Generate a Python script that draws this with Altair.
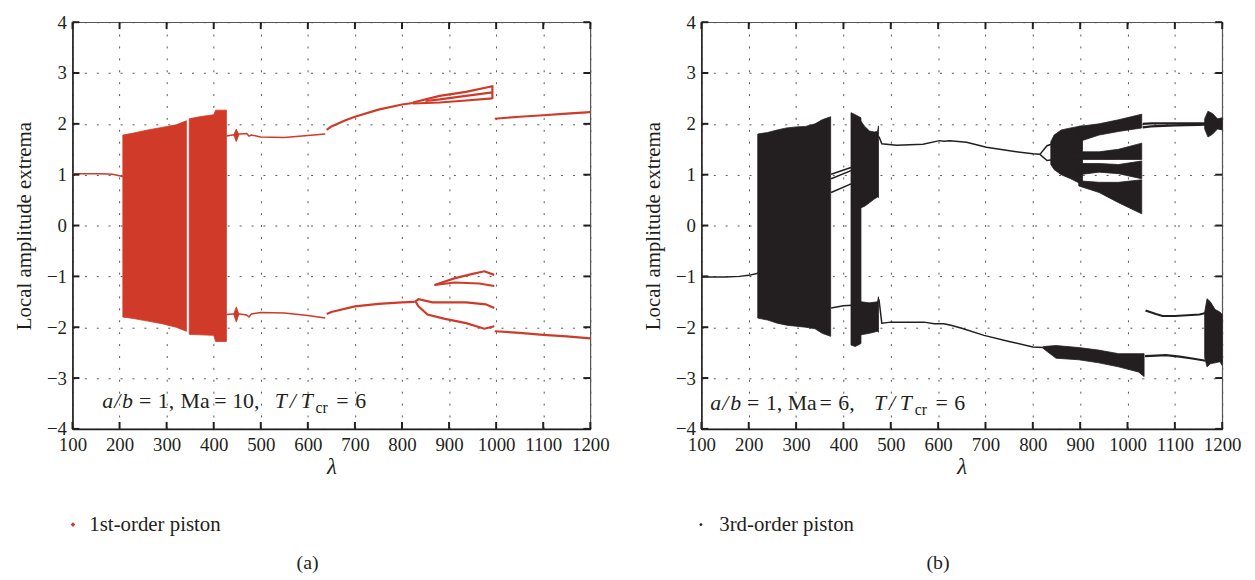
import altair as alt
import pandas as pd

RED = "#cf3a29"
INK = "#231f20"
FONT = "Liberation Serif"

X_TICKS = [100, 200, 300, 400, 500, 600, 700, 800, 900, 1000, 1100, 1200]
Y_TICKS = [-4, -3, -2, -1, 0, 1, 2, 3, 4]

# ---------------- panel (a): 1st-order piston, Ma = 10 ----------------
# chaotic bands: lambda, upper envelope, lower envelope
A_B1_X = [207, 230, 260, 290, 320, 342]
A_B1_TOP = [1.78, 1.82, 1.88, 1.93, 1.98, 2.06]
A_B1_BOT = [-1.80, -1.83, -1.88, -1.93, -2.00, -2.08]

A_B2_X = [348, 370, 400, 404, 427]
A_B2_TOP = [2.10, 2.14, 2.18, 2.27, 2.27]
A_B2_BOT = [-2.14, -2.15, -2.16, -2.28, -2.28]

A_S1_X = [443, 448, 453]
A_S1_TOP = [1.79, 1.90, 1.79]
A_S1_BOT = [1.77, 1.65, 1.77]

A_S2_X = [443, 448, 453]
A_S2_TOP = [-1.73, -1.60, -1.73]
A_S2_BOT = [-1.76, -1.90, -1.76]

# periodic branches
A_PRE_X = [100, 130, 160, 185, 200, 207]
A_PRE_Y = [1.02, 1.02, 1.02, 1.01, 0.98, 0.96]

A_UP1_X = [427, 440, 455, 470, 475, 480, 500, 550, 600, 637]
A_UP1_Y = [1.76, 1.78, 1.80, 1.81, 1.76, 1.78, 1.74, 1.73, 1.77, 1.80]

A_UP2_X = [640, 650, 680, 700, 750, 800, 823]
A_UP2_Y = [1.88, 1.95, 2.07, 2.14, 2.28, 2.38, 2.41]

A_UP3A_X = [823, 880, 936, 992]
A_UP3A_Y = [2.42, 2.55, 2.63, 2.74]
A_UP3B_X = [850, 880, 936, 992]
A_UP3B_Y = [2.45, 2.48, 2.55, 2.62]
A_UP3C_X = [823, 880, 936, 992]
A_UP3C_Y = [2.40, 2.42, 2.46, 2.50]
A_UP3V_X = [992, 992]
A_UP3V_Y = [2.49, 2.76]

A_UP4_X = [997, 1050, 1100, 1150, 1200]
A_UP4_Y = [2.10, 2.14, 2.17, 2.20, 2.23]

A_LO1_X = [427, 440, 455, 470, 475, 480, 500, 550, 600, 637]
A_LO1_Y = [-1.75, -1.74, -1.74, -1.76, -1.80, -1.74, -1.71, -1.72, -1.77, -1.82]

A_LO2_X = [640, 650, 700, 750, 800, 827]
A_LO2_Y = [-1.74, -1.70, -1.59, -1.54, -1.51, -1.50]

A_LO3A_X = [827, 835, 865, 936, 978, 996]
A_LO3A_Y = [-1.50, -1.45, -1.51, -1.51, -1.55, -1.62]
A_LO3B_X = [829, 835, 854, 889, 936, 975, 996]
A_LO3B_Y = [-1.50, -1.59, -1.75, -1.83, -1.92, -2.03, -1.98]
A_LO4A_X = [869, 911, 950, 975, 996]
A_LO4A_Y = [-1.17, -1.04, -0.95, -0.90, -0.97]
A_LO4B_X = [869, 911, 964, 996]
A_LO4B_Y = [-1.17, -1.12, -1.14, -1.19]

A_LO5_X = [997, 1050, 1100, 1150, 1200]
A_LO5_Y = [-2.08, -2.11, -2.15, -2.18, -2.22]

# ---------------- panel (b): 3rd-order piston, Ma = 6 ----------------
B_B1_X = [219, 240, 260, 280, 300, 320, 340, 355, 373]
B_B1_TOP = [1.80, 1.83, 1.88, 1.92, 1.94, 1.95, 2.00, 2.08, 2.14]
B_B1_BOT = [-1.82, -1.86, -1.92, -1.96, -1.98, -2.00, -2.03, -2.12, -2.18]

B_B2_X = [416, 425, 437]
B_B2_TOP = [2.22, 2.18, 2.12]
B_B2_BOT = [-2.35, -2.38, -2.32]

B_B3_X = [437, 445, 455, 465, 472, 474]
B_B3_TOP = [2.05, 1.95, 1.86, 1.84, 1.85, 1.96]
B_B3_BOT = [0.35, 0.38, 0.45, 0.52, 0.56, 0.55]

B_B4_X = [437, 455, 472, 474]
B_B4_TOP = [-1.50, -1.52, -1.50, -1.40]
B_B4_BOT = [-2.15, -2.12, -2.08, -2.10]

B_FAN0_X = [838, 845, 860, 880, 897, 905]
B_FAN0_TOP = [1.65, 1.78, 1.88, 1.92, 1.95, 1.96]
B_FAN0_BOT = [1.20, 1.10, 1.00, 0.92, 0.84, 0.80]

B_FANA_X = [897, 940, 981, 1030]
B_FANA_TOP = [1.95, 2.00, 2.08, 2.19]
B_FANA_BOT = [1.65, 1.78, 1.85, 1.92]

B_FANB_X = [890, 940, 981, 1030]
B_FANB_TOP = [1.45, 1.45, 1.50, 1.62]
B_FANB_BOT = [1.30, 1.30, 1.30, 1.30]

B_FANC_X = [897, 940, 981, 1030]
B_FANC_TOP = [1.22, 1.22, 1.20, 1.27]
B_FANC_BOT = [1.00, 1.05, 1.02, 0.92]

B_FAND_X = [897, 940, 981, 1030]
B_FAND_TOP = [0.88, 0.85, 0.85, 0.90]
B_FAND_BOT = [0.78, 0.65, 0.45, 0.23]

B_LOB_X = [822, 849, 897, 939, 981, 1023, 1035]
B_LOB_TOP = [-2.38, -2.36, -2.40, -2.45, -2.52, -2.52, -2.52]
B_LOB_BOT = [-2.42, -2.61, -2.64, -2.70, -2.78, -2.88, -2.97]

B_RUP_X = [1163, 1170, 1180, 1190, 1200]
B_RUP_TOP = [2.10, 2.25, 2.20, 2.10, 2.12]
B_RUP_BOT = [1.90, 1.74, 1.80, 1.90, 1.88]

B_RLO_X = [1163, 1168, 1175, 1185, 1195, 1200]
B_RLO_TOP = [-1.70, -1.44, -1.50, -1.65, -1.70, -1.75]
B_RLO_BOT = [-2.60, -2.78, -2.72, -2.70, -2.68, -2.75]

B_PRE_X = [100, 150, 180, 200, 215, 220]
B_PRE_Y = [-1.01, -1.01, -1.00, -0.98, -0.95, -0.93]

B_LK1_X = [374, 416]
B_LK1_Y = [1.01, 1.14]
B_LK2_X = [374, 416]
B_LK2_Y = [0.92, 1.08]
B_LK3_X = [374, 416]
B_LK3_Y = [0.65, 0.82]
B_LK4_X = [374, 400, 418]
B_LK4_Y = [-1.62, -1.58, -1.57]

B_UP1_X = [475, 481, 512, 568, 603, 612, 625, 660, 702, 751, 800, 815]
B_UP1_Y = [1.75, 1.61, 1.58, 1.60, 1.67, 1.66, 1.67, 1.64, 1.54, 1.47, 1.41, 1.40]
B_BUB1_X = [815, 830, 845]
B_BUB1_Y = [1.40, 1.57, 1.62]
B_BUB2_X = [815, 830, 845]
B_BUB2_Y = [1.40, 1.28, 1.30]

B_UP2A_X = [1032, 1050, 1100, 1150, 1172]
B_UP2A_Y = [2.00, 2.01, 2.01, 2.01, 2.01]
B_UP2B_X = [1032, 1050, 1100, 1150, 1172]
B_UP2B_Y = [1.93, 1.95, 1.97, 1.98, 1.99]

B_LO1_X = [475, 481, 500, 570, 592, 612, 627, 650, 697, 750, 800, 822]
B_LO1_Y = [-1.45, -1.92, -1.90, -1.90, -1.93, -1.93, -1.96, -2.02, -2.16, -2.28, -2.39, -2.40]
B_LO2_X = [1037, 1060, 1081, 1110, 1140, 1165]
B_LO2_Y = [-2.57, -2.56, -2.55, -2.58, -2.62, -2.66]
B_LO3_X = [1038, 1060, 1074, 1100, 1152, 1165]
B_LO3_Y = [-1.67, -1.74, -1.78, -1.78, -1.75, -1.72]


def band_df(bands, series):
    rows = []
    for name, xs, tops, bots in bands:
        for x, t, b in zip(xs, tops, bots):
            rows.append({"band": name, "lam": x, "amp": t, "amp2": b, "series": series})
    return pd.DataFrame(rows)


def line_df(lines):
    rows = []
    for name, xs, ys in lines:
        for i, (x, y) in enumerate(zip(xs, ys)):
            rows.append({"branch": name, "lam": x, "amp": y, "ord": i})
    return pd.DataFrame(rows)


def x_enc():
    return alt.X("lam:Q", scale=alt.Scale(domain=[100, 1200], nice=False, zero=False),
                 axis=alt.Axis(values=X_TICKS, title="λ", titleFontStyle="italic",
                               titleFontSize=23, titlePadding=1, labelPadding=7,
                               labelFlush=False, labelOverlap=False, format="d"))


def y_enc():
    return alt.Y("amp:Q", scale=alt.Scale(domain=[-4, 4], nice=False, zero=False),
                 axis=alt.Axis(values=Y_TICKS, title="Local amplitude extrema",
                               titlePadding=12, labelPadding=6, labelOverlap=False))


def panel(bands, thin, thick, color, series, symbol, sym_size, leg_x, lab_off, W, H,
          annot, caption):
    base_x = x_enc()
    base_y = y_enc()
    area = alt.Chart(band_df(bands, series)).mark_area(
        stroke=color, strokeWidth=0.8, opacity=1, interpolate="linear"
    ).encode(
        x=base_x, y=base_y, y2="amp2:Q", detail="band:N",
        color=alt.Color("series:N", scale=alt.Scale(domain=[series], range=[color]),
                        legend=alt.Legend(orient="none", legendX=leg_x, legendY=496,
                                          title=None, symbolType=symbol,
                                          symbolSize=sym_size, symbolStrokeWidth=0,
                                          labelFont=FONT, labelFontSize=21,
                                          labelColor=INK, labelOffset=lab_off,
                                          padding=0)),
    )
    layers = [area]
    for lines, w in ((thin, 1.5), (thick, 2.2)):
        if lines:
            layers.append(
                alt.Chart(line_df(lines)).mark_line(color=color, strokeWidth=w).encode(
                    x=base_x, y=base_y, detail="branch:N", order="ord:Q"))
    xt = alt.Chart(pd.DataFrame({"lam": X_TICKS}))
    yt = alt.Chart(pd.DataFrame({"amp": Y_TICKS}))
    layers += [
        xt.mark_rule(color=INK, strokeWidth=2).encode(x=base_x, y=alt.value(H), y2=alt.value(H - 7)),
        xt.mark_rule(color=INK, strokeWidth=2).encode(x=base_x, y=alt.value(0), y2=alt.value(7)),
        yt.mark_rule(color=INK, strokeWidth=2).encode(y=base_y, x=alt.value(0), x2=alt.value(7)),
        yt.mark_rule(color=INK, strokeWidth=2).encode(y=base_y, x=alt.value(W - 7), x2=alt.value(W)),
    ]
    one = pd.DataFrame({"k": [0]})
    for txt, px, py, style, size in annot:
        layers.append(alt.Chart(one).mark_text(
            text=txt, font=FONT, fontSize=size, fontStyle=style, color=INK,
            align="left", baseline="alphabetic").encode(x=alt.value(px), y=alt.value(py)))
    layers.append(alt.Chart(one).mark_text(
        text=caption, font=FONT, fontSize=20, color=INK, align="center",
        baseline="middle").encode(x=alt.value(W / 2 - 24), y=alt.value(545)))
    return alt.layer(*layers).properties(width=W, height=H)


A_BANDS = [("b1", A_B1_X, A_B1_TOP, A_B1_BOT), ("b2", A_B2_X, A_B2_TOP, A_B2_BOT),
           ("s1", A_S1_X, A_S1_TOP, A_S1_BOT), ("s2", A_S2_X, A_S2_TOP, A_S2_BOT)]
A_THIN = [("pre", A_PRE_X, A_PRE_Y), ("up1", A_UP1_X, A_UP1_Y), ("lo1", A_LO1_X, A_LO1_Y)]
A_THICK = [("up2", A_UP2_X, A_UP2_Y), ("up3a", A_UP3A_X, A_UP3A_Y),
           ("up3b", A_UP3B_X, A_UP3B_Y), ("up3c", A_UP3C_X, A_UP3C_Y),
           ("up3v", A_UP3V_X, A_UP3V_Y), ("up4", A_UP4_X, A_UP4_Y),
           ("lo2", A_LO2_X, A_LO2_Y), ("lo3a", A_LO3A_X, A_LO3A_Y),
           ("lo3b", A_LO3B_X, A_LO3B_Y), ("lo4a", A_LO4A_X, A_LO4A_Y),
           ("lo4b", A_LO4B_X, A_LO4B_Y), ("lo5", A_LO5_X, A_LO5_Y)]

B_BANDS = [("b1", B_B1_X, B_B1_TOP, B_B1_BOT), ("b2", B_B2_X, B_B2_TOP, B_B2_BOT),
           ("b3", B_B3_X, B_B3_TOP, B_B3_BOT), ("b4", B_B4_X, B_B4_TOP, B_B4_BOT),
           ("f0", B_FAN0_X, B_FAN0_TOP, B_FAN0_BOT), ("fa", B_FANA_X, B_FANA_TOP, B_FANA_BOT),
           ("fb", B_FANB_X, B_FANB_TOP, B_FANB_BOT), ("fc", B_FANC_X, B_FANC_TOP, B_FANC_BOT),
           ("fd", B_FAND_X, B_FAND_TOP, B_FAND_BOT), ("lob", B_LOB_X, B_LOB_TOP, B_LOB_BOT),
           ("rup", B_RUP_X, B_RUP_TOP, B_RUP_BOT), ("rlo", B_RLO_X, B_RLO_TOP, B_RLO_BOT)]
B_THIN = [("pre", B_PRE_X, B_PRE_Y), ("lk1", B_LK1_X, B_LK1_Y), ("lk2", B_LK2_X, B_LK2_Y),
          ("lk3", B_LK3_X, B_LK3_Y), ("lk4", B_LK4_X, B_LK4_Y), ("up1", B_UP1_X, B_UP1_Y),
          ("bub1", B_BUB1_X, B_BUB1_Y), ("bub2", B_BUB2_X, B_BUB2_Y),
          ("lo1", B_LO1_X, B_LO1_Y)]
B_THICK = [("up2a", B_UP2A_X, B_UP2A_Y), ("up2b", B_UP2B_X, B_UP2B_Y),
           ("lo2", B_LO2_X, B_LO2_Y), ("lo3", B_LO3_X, B_LO3_Y)]

IT, RG = "italic", "normal"
FS = 22
A_ANNOT = [("a", 30, 389, IT, FS), ("/", 42, 389, IT, FS), ("b", 50, 389, IT, FS),
           ("=", 67, 389, RG, FS), ("1,", 86, 389, RG, FS),
           ("Ma", 109, 389, RG, FS), ("=", 143, 389, RG, FS), ("10,", 161, 389, RG, FS),
           ("T", 204, 389, IT, FS), ("/", 219, 389, IT, FS), ("T", 230, 389, IT, FS),
           ("cr", 245, 394, RG, 16), ("=", 266, 389, RG, FS), ("6", 285, 389, RG, FS)]
B_ANNOT = [("a", 9, 391, IT, FS), ("/", 21, 391, IT, FS), ("b", 29, 391, IT, FS),
           ("=", 46, 391, RG, FS), ("1,", 65, 391, RG, FS),
           ("Ma", 87, 391, RG, FS), ("=", 119, 391, RG, FS), ("6,", 138, 391, RG, FS),
           ("T", 174, 391, IT, FS), ("/", 189, 391, IT, FS), ("T", 200, 391, IT, FS),
           ("cr", 215, 396, RG, 16), ("=", 236, 391, RG, FS), ("6", 255, 391, RG, FS)]

pa = panel(A_BANDS, A_THIN, A_THICK, RED, "1st-order piston", "diamond", 22, -10, 6,
           522, 410, A_ANNOT, "(a)")
pb = panel(B_BANDS, B_THIN, B_THICK, INK, "3rd-order piston", "circle", 8, -11, 8,
           525, 410, B_ANNOT, "(b)")

chart = alt.hconcat(pa, pb, spacing=32).resolve_scale(
    x="independent", y="independent", color="independent"
).resolve_legend(color="independent").properties(
    padding={"left": 5, "top": 2, "right": 5, "bottom": 0}
).configure_view(stroke="#555555", strokeWidth=1.2).configure_axis(
    labelFont=FONT, labelFontSize=19, labelColor=INK,
    titleFont=FONT, titleFontSize=21, titleFontWeight="normal", titleColor=INK,
    ticks=False, grid=True, gridDash=[2, 10], gridColor="#555555", gridWidth=1,
    domainColor=INK, domainWidth=1.5
)

chart.save("out.html", embed_options={"renderer": "svg", "actions": False})
